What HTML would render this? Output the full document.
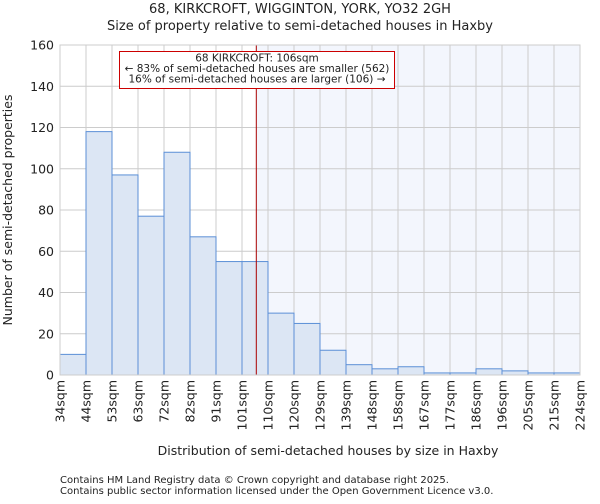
<!DOCTYPE html>
<html><head><meta charset="utf-8"><style>
body{margin:0;background:#fff;font-family:"DejaVu Sans","Liberation Sans",sans-serif}
svg text{font-family:"DejaVu Sans","Liberation Sans",sans-serif;fill:#222}
</style></head><body>
<svg id="chart" width="600" height="500" xmlns="http://www.w3.org/2000/svg">
<text x="300" y="13" font-size="13" text-anchor="middle">68, KIRKCROFT, WIGGINTON, YORK, YO32 2GH</text>
<text x="300" y="30" font-size="13" text-anchor="middle">Size of property relative to semi-detached houses in Haxby</text>
<g id="plot"></g>
<text x="328" y="455" font-size="12.5" text-anchor="middle">Distribution of semi-detached houses by size in Haxby</text>
<text transform="translate(12,210) rotate(-90)" font-size="12.5" text-anchor="middle">Number of semi-detached properties</text>
<text x="60" y="483" font-size="10">Contains HM Land Registry data © Crown copyright and database right 2025.</text>
<text x="60" y="494" font-size="10">Contains public sector information licensed under the Open Government Licence v3.0.</text>
</svg>
<script>
const categories=["34sqm","44sqm","53sqm","63sqm","72sqm","82sqm","91sqm","101sqm","110sqm","120sqm","129sqm","139sqm","148sqm","158sqm","167sqm","177sqm","186sqm","196sqm","205sqm","215sqm","224sqm"];
const values=[10,118,97,77,108,67,55,55,30,25,12,5,3,4,1,1,3,2,1,1];
const yTicks=[0,20,40,60,80,100,120,140,160];
const propertyBin=7.55;
const NS="http://www.w3.org/2000/svg";
const L=60,R=580,T=45,B=375,bw=(R-L)/values.length;
const x=i=>L+i*bw, y=v=>B-(v/160)*(B-T);
const g=document.getElementById('plot');
function mk(t,a,p){const e=document.createElementNS(NS,t);for(const k in a)e.setAttribute(k,a[k]);(p||g).appendChild(e);return e;}
const px=x(propertyBin);
let e=mk('rect',{x:px,y:T,width:R-px,height:B-T,fill:'#f3f6fd'});

yTicks.forEach(v=>{let l=mk('line',{x1:L,x2:R,y1:y(v),y2:y(v),stroke:'#ccc'});

let t=mk('text',{x:L-6,y:y(v)+4.5,'font-size':'12.5','text-anchor':'end'});t.textContent=v;
});
categories.forEach((c,i)=>{let l=mk('line',{x1:x(i),x2:x(i),y1:T,y2:B,stroke:'#ccc'});

let t=mk('text',{transform:`translate(${x(i)+4.5},${B+5}) rotate(-90)`,'font-size':'12.5','text-anchor':'end'});t.textContent=c;
});
values.forEach((v,i)=>{let r=mk('rect',{x:x(i),y:y(v),width:bw,height:B-y(v),fill:'#dce6f4',stroke:'#5b8fd6','stroke-width':1});
});
let ln=mk('line',{x1:px,x2:px,y1:T,y2:B,stroke:'#aa0000','stroke-width':1});

let ax=mk('rect',{x:L,y:T,width:R-L,height:B-T,fill:'none',stroke:'#ccc'});

let bx=mk('rect',{x:119.5,y:51.5,width:275,height:37,fill:'#fff',stroke:'#cc0000'});

["68 KIRKCROFT: 106sqm","← 83% of semi-detached houses are smaller (562)","16% of semi-detached houses are larger (106) →"].forEach((s,i)=>{
let t=mk('text',{x:257,y:61.5+i*10.5,'font-size':'10.5','text-anchor':'middle'});t.textContent=s;
});
</script>
</body></html>
